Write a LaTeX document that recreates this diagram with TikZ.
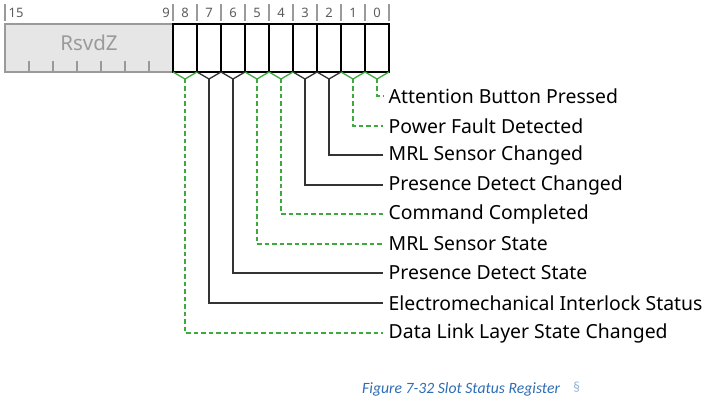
\documentclass[tikz,border=0pt]{standalone}
\usepackage{fontspec}
\setmainfont{Noto Sans}
\newfontfamily\capfont{Carlito}
\usetikzlibrary{calc}
\definecolor{grn}{HTML}{3DAA3D}
\definecolor{dk}{HTML}{333333}
\definecolor{rsv}{HTML}{E6E6E6}
\definecolor{rsvline}{HTML}{9A9A9A}
\definecolor{capblue}{HTML}{2E6DB4}
\definecolor{secblue}{HTML}{8FB3DE}
\begin{document}
\begin{tikzpicture}[x=1pt,y=-1pt,
  cell/.style={draw=black,line width=1.6pt,fill=white,minimum width=24pt,minimum height=48pt,inner sep=0pt,outer sep=0pt},
  rsvbox/.style={draw=rsvline,line width=1.4pt,fill=rsv,minimum width=168pt,minimum height=48pt,inner sep=0pt,outer sep=0pt},
  bitnum/.style={font=\fontsize{13}{15}\selectfont,text=dk!80,inner sep=0pt},
  lab/.style={anchor=west,font=\fontsize{19.4}{22}\selectfont,text=black,inner xsep=5.5pt,inner ysep=0pt},
  rwc/.style={draw=grn,line width=1.3pt,dash pattern=on 4.5pt off 3pt},
  ro/.style={draw=dk,line width=1.3pt},
  vrwc/.style={draw=grn,line width=1.3pt},
  tick/.style={draw=rsvline,line width=1.2pt}]
\useasboundingbox (0,0) rectangle (711,403);
% top ticks
\foreach \x in {5,173,197,221,245,269,293,317,341,365,389}
  \draw[tick] (\x,4) -- (\x,21);
\node[bitnum,anchor=west] (n15) at (8.5,13) {15};
\node[bitnum,anchor=east] (n9) at (170,13) {9};
\foreach \i in {0,...,8}
  \node[bitnum] (n\i) at ({377-24*\i},13) {\i};
% reserved box
\node[rsvbox] (rsvd) at (89,48) {};
\node[font=\fontsize{20.5}{24}\selectfont,text=rsvline,inner sep=0pt] (rsvdt) at (89,43) {RsvdZ};
\foreach \x in {29,53,77,101,125,149}
  \draw[tick] (\x,61) -- (\x,72);
% bit cells
\foreach \i in {0,...,8}
  \node[cell] (b\i) at ({377-24*\i},48) {};
% labels
\node[lab] (l0) at (383,96) {Attention Button Pressed};
\node[lab] (l1) at (383,126) {Power Fault Detected};
\node[lab] (l2) at (383,155) {MRL Sensor Changed};
\node[lab] (l3) at (383,185) {Presence Detect Changed};
\node[lab] (l4) at (383,214) {Command Completed};
\node[lab] (l5) at (383,244) {MRL Sensor State};
\node[lab] (l6) at (383,273) {Presence Detect State};
\node[lab] (l7) at (383,303) {Electromechanical Interlock Status};
\node[lab] (l8) at (383,333) {Data Link Layer State Changed};
% connectors
\foreach \i/\vs/\ls in {0/vrwc/rwc,1/vrwc/rwc,2/ro/ro,3/ro/ro,4/vrwc/rwc,5/vrwc/rwc,6/ro/ro,7/ro/ro,8/vrwc/rwc}{
  \coordinate (t\i) at ($(b\i.south)+(0,7)$);
  \draw[\vs] (b\i.south west) -- (t\i) -- (b\i.south east);
  \draw[\ls] (t\i) |- (l\i.west);
}
% caption
\node[anchor=base west,font=\capfont\fontsize{15.7}{19}\selectfont\itshape,text=capblue,inner sep=0pt] (cap) at (362,393) {Figure 7-32 Slot Status Register};
\node[anchor=base west,font=\capfont\fontsize{14}{16}\selectfont,text=secblue,inner sep=0pt] (sec) at (573,391) {§};
\end{tikzpicture}
\end{document}
